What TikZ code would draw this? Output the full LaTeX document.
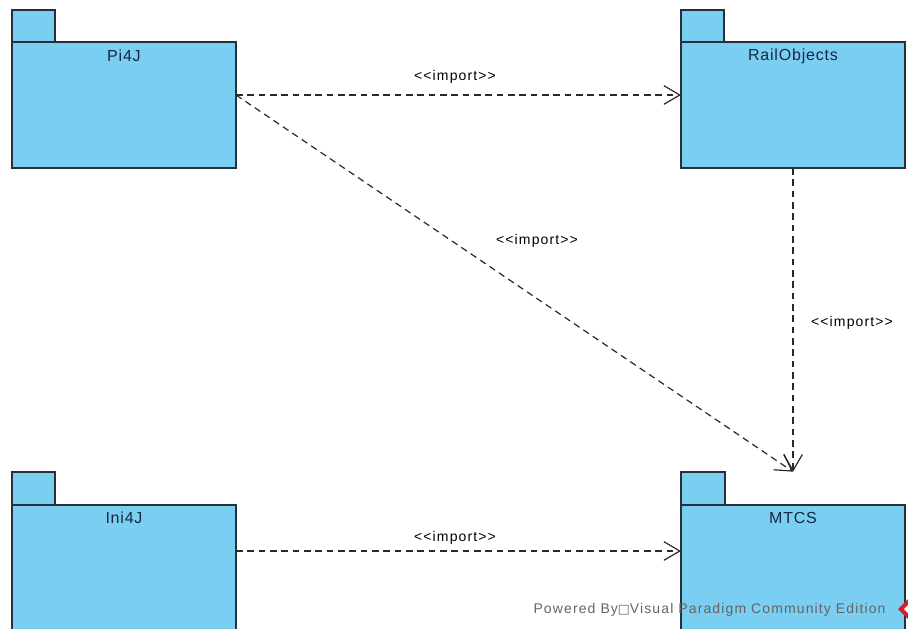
\documentclass[tikz,border=0pt]{standalone}
\usepackage{fontspec}
\newfontfamily\vpfont{Liberation Sans}[LetterSpace=5]
\newfontfamily\vplabel{Liberation Sans}[LetterSpace=8]
\newfontfamily\symfont{DejaVu Sans}
\usetikzlibrary{arrows.meta}

\definecolor{pkgfill}{RGB}{122,206,242}
\definecolor{pkgline}{RGB}{38,48,60}
\definecolor{pkgtext}{RGB}{22,40,70}
\definecolor{depline}{RGB}{40,40,40}
\definecolor{wmark}{RGB}{100,100,100}
\definecolor{wred}{RGB}{215,30,40}

\tikzset{every picture/.style={line width=0.75pt}}
\tikzset{
  pkgbody/.style={draw=pkgline, fill=pkgfill, line width=1.1pt, minimum width=168pt, minimum height=94.5pt, inner sep=0pt, outer sep=0pt, anchor=north west},
  pkgname/.style={anchor=center, font=\vpfont\fontsize{12}{14}\selectfont, text=pkgtext, inner sep=0pt},
  pkgtab/.style={draw=pkgline, fill=pkgfill, line width=1.1pt},
  imp/.style={draw=depline, line width=0.9pt, dash pattern=on 5pt off 3.5pt, -{Straight Barb[length=12pt,width=14pt,line width=0.9pt]}},
  implabel/.style={font=\vplabel\fontsize{10.5}{12}\selectfont, text=black, inner sep=0.75pt}
}

\begin{document}
\begin{tikzpicture}[x=0.75pt,y=0.75pt,yscale=-1,xscale=1]
\useasboundingbox (0,0) rectangle (908,629);

%Shape: Package Pi4J
\node [pkgbody, label={[pkgname, yshift=-10.5pt]north:Pi4J}] (pi4j) at (12,42) {};
\draw [pkgtab] (pi4j.north west) rectangle ++(43,-32);
%Shape: Package RailObjects
\node [pkgbody, label={[pkgname, yshift=-10.5pt]north:RailObjects}] (rail) at (681,42) {};
\draw [pkgtab] (rail.north west) rectangle ++(43,-32);
%Shape: Package Ini4J
\node [pkgbody, label={[pkgname, yshift=-9.5pt]north:Ini4J}] (ini) at (12,505) {};
\draw [pkgtab] (ini.north west) rectangle ++(43,-33);
%Shape: Package MTCS
\node [pkgbody, label={[pkgname, yshift=-9.5pt]north:MTCS}] (mtcs) at (681,505) {};
\draw [pkgtab] (mtcs.north west) rectangle ++(44,-33);

%end points
\coordinate (pi4jout) at ([yshift=39.75pt]pi4j.north east);
\coordinate (railin) at ([yshift=39.75pt]rail.north west);
\coordinate (iniout) at ([yshift=34.5pt]ini.north east);
\coordinate (mtcsin) at ([yshift=34.5pt]mtcs.north west);
\coordinate (mtcstop) at ([yshift=-25pt]mtcs.north);

%Dependencies
\draw [imp] (pi4jout) -- (railin);
\draw [imp] (pi4jout) -- (mtcstop);
\draw [imp] (rail.south) -- (mtcstop);
\draw [imp] (iniout) -- (mtcsin);

% Text Node
\node [implabel] (lbl1) at (455,77) {<<import>>};
% Text Node
\node [implabel] (lbl2) at (537,241) {<<import>>};
% Text Node
\node [implabel] (lbl3) at (852,323) {<<import>>};
% Text Node
\node [implabel] (lbl4) at (455,538) {<<import>>};

% Watermark
\node [anchor=east, inner sep=0pt, text=wmark, font=\vplabel\fontsize{10.5}{12}\selectfont] (wm) at (886,610) {Powered By{\symfont\fontsize{9.5}{11}\selectfont □}Visual Paradigm Community Edition};
\fill [wred] (908,599) -- (918,609) -- (908,619) -- (898,609) -- cycle;
\fill [white] (908,605) -- (912,609) -- (908,613) -- (904,609) -- cycle;

\end{tikzpicture}
\end{document}
